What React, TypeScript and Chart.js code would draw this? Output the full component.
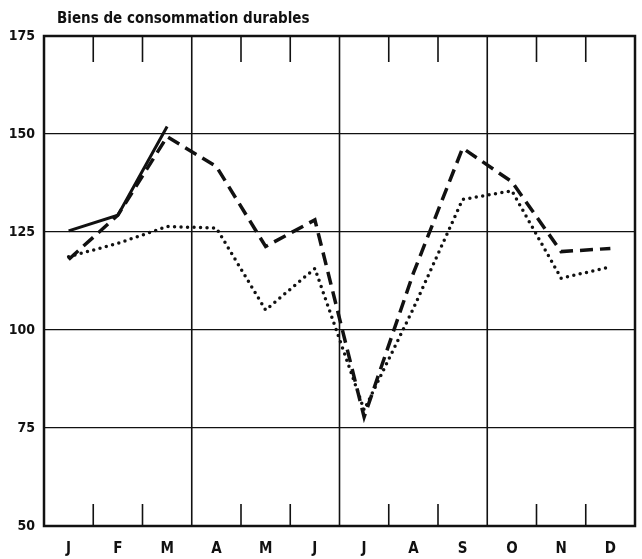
import React, { useEffect, useRef } from 'react';
import { Chart, registerables } from 'chart.js';

Chart.register(...registerables);

const TITLE = 'Biens de consommation durables';
const MONTHS = ['J', 'F', 'M', 'A', 'M', 'J', 'J', 'A', 'S', 'O', 'N', 'D'];
const Y_MIN = 50;
const Y_MAX = 175;
const Y_STEP = 25;

const SERIES_SOLID: (number | null)[] = [125.3, 129.3, 151.9, null, null, null, null, null, null, null, null, null];
const SERIES_DASHED: (number | null)[] = [118.0, 129.3, 149.3, 141.7, 121.3, 128.1, 77.8, 114.5, 146.4, 137.8, 120.0, 120.8];
const SERIES_DOTTED: (number | null)[] = [118.7, 122.1, 126.4, 126.0, 105.1, 115.7, 79.6, 105.5, 133.3, 135.5, 113.2, 116.1];

const INK = '#111';
const FONT_FAMILY = "'DejaVu Sans Condensed', 'Liberation Sans Narrow', 'DejaVu Sans', sans-serif";

const framePlugin = {
  id: 'frame',
  beforeDatasetsDraw(chart: any) {
    const { ctx, chartArea: a, scales } = chart;
    const x = scales.x;
    const step = x.getPixelForValue(1) - x.getPixelForValue(0);
    const start = x.getPixelForValue(0) - step / 2;
    ctx.save();
    ctx.strokeStyle = INK;
    for (let i = 1; i < MONTHS.length; i++) {
      const px = start + i * step;
      ctx.beginPath();
      if (i % 3 === 0) {
        ctx.lineWidth = 1.6;
        ctx.moveTo(px, a.top);
        ctx.lineTo(px, a.bottom);
      } else {
        ctx.lineWidth = 1.6;
        ctx.moveTo(px, a.top);
        ctx.lineTo(px, a.top + 26);
        ctx.moveTo(px, a.bottom - 22);
        ctx.lineTo(px, a.bottom);
      }
      ctx.stroke();
    }
    ctx.lineWidth = 2.5;
    ctx.strokeRect(a.left, a.top, a.right - a.left, a.bottom - a.top);
    ctx.restore();
  },
  afterDraw(chart: any) {
    const { ctx } = chart;
    ctx.save();
    ctx.fillStyle = INK;
    ctx.font = `bold 15px ${FONT_FAMILY}`;
    ctx.textAlign = 'left';
    ctx.textBaseline = 'alphabetic';
    ctx.fillText(TITLE, 57, 23);
    ctx.restore();
  },
};

export default function App() {
  const ref = useRef<HTMLCanvasElement | null>(null);

  useEffect(() => {
    if (!ref.current) return;
    const chart = new Chart(ref.current, {
      type: 'line',
      data: {
        labels: MONTHS,
        datasets: [
          {
            label: 'solid',
            data: SERIES_SOLID,
            borderColor: INK,
            borderWidth: 3,
            pointRadius: 0,
            tension: 0,
            fill: false,
            spanGaps: false,
          },
          {
            label: 'dashed',
            data: SERIES_DASHED,
            borderColor: INK,
            borderWidth: 3.5,
            borderDash: [13, 7],
            pointRadius: 0,
            tension: 0,
            fill: false,
          },
          {
            label: 'dotted',
            data: SERIES_DOTTED,
            borderColor: INK,
            borderWidth: 3.5,
            borderDash: [0, 6.5],
            borderCapStyle: 'round',
            pointRadius: 0,
            tension: 0,
            fill: false,
          },
        ],
      },
      options: {
        responsive: false,
        animation: false,
        devicePixelRatio: 1,
        layout: { padding: { top: 36, right: 7, left: 0, bottom: 0 } },
        plugins: {
          legend: { display: false },
          tooltip: { enabled: false },
          title: { display: false },
        },
        scales: {
          x: {
            type: 'category',
            offset: true,
            grid: { display: false, drawTicks: false },
            border: { display: false },
            ticks: {
              color: INK,
              padding: 14,
              autoSkip: false,
              maxRotation: 0,
              font: { family: FONT_FAMILY, size: 15, weight: 'bold' },
            },
            afterFit: (s: any) => {
              s.height = 33;
            },
          },
          y: {
            min: Y_MIN,
            max: Y_MAX,
            grid: { color: INK, lineWidth: 1.3, drawTicks: false },
            border: { display: false },
            ticks: {
              stepSize: Y_STEP,
              color: INK,
              padding: 9,
              font: { family: FONT_FAMILY, size: 14, weight: 'bold' },
            },
            afterFit: (s: any) => {
              s.width = 44;
            },
          },
        },
      },
      plugins: [framePlugin],
    });
    return () => chart.destroy();
  }, []);

  return (
    <div style={{ position: 'absolute', left: 0, top: 0, width: 642, height: 559, background: '#fff' }}>
      <canvas ref={ref} width={642} height={559} />
    </div>
  );
}
